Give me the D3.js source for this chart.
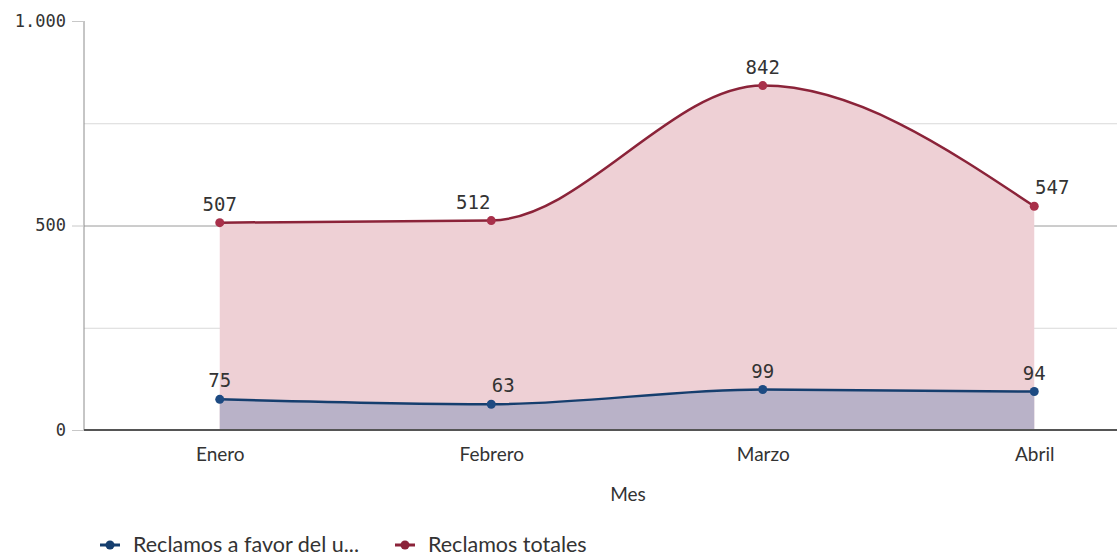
<!DOCTYPE html>
<html>
<head>
<meta charset="utf-8">
<script src="https://cdn.jsdelivr.net/npm/d3@7"></script>
<style>
  body { margin: 0; background: #fff; overflow: hidden; }
  svg { display: block; }
</style>
</head>
<body>
<svg id="chart" width="1117" height="556"></svg>
<script>
// data
const MONTHS = ["Enero", "Febrero", "Marzo", "Abril"];
const FAVOR = [75, 63, 99, 94];
const TOTAL = [507, 512, 842, 547];
const Y_TICKS = [0, 500, 1000];
const SERIES_NAMES = ["Reclamos a favor del u...", "Reclamos totales"];

// label nudges so the numbers dont sit on the lines (Qlik style)
const LABEL_DX = { total: [0, -18, 0, 18], favor: [0, 12, 0, 0] };

const width = 1117;
const height = 556;
const margin = { top: 21, right: -53, bottom: 126, left: 84 };

const svg = d3.select("#chart");

const x = d3.scalePoint()
  .domain(MONTHS)
  .range([margin.left, width - margin.right])
  .padding(0.5);

const y = d3.scaleLinear()
  .domain([0, 1000])
  .range([height - margin.bottom, margin.top]);

// gridlines
const grid = svg.append("g");
grid.selectAll("line")
  .data([250, 500, 750])
  .join("line")
  .attr("x1", margin.left)
  .attr("x2", width)
  .attr("y1", d => y(d) + 0.5)
  .attr("y2", d => y(d) + 0.5)
  .attr("stroke", d => d === 500 ? "#9a9a9a" : "#d9d9d9")
  .attr("stroke-width", 1);

const curve = d3.curveMonotoneX;

const area = vals => d3.area()
  .x((d, i) => x(MONTHS[i]))
  .y0(y(0))
  .y1(d => y(d))
  .curve(curve)(vals);

const line = vals => d3.line()
  .x((d, i) => x(MONTHS[i]))
  .y(d => y(d))
  .curve(curve)(vals);

// areas
svg.append("path").attr("d", area(TOTAL)).attr("fill", "#eed0d5");
svg.append("path").attr("d", area(FAVOR)).attr("fill", "#b9b2c8");

// lines
svg.append("path").attr("d", line(TOTAL))
  .attr("fill", "none").attr("stroke", "#8b2339").attr("stroke-width", 2.5);
svg.append("path").attr("d", line(FAVOR))
  .attr("fill", "none").attr("stroke", "#153e6e").attr("stroke-width", 2.5);

// axes
const yAxis = g => g
  .attr("transform", `translate(${margin.left},0)`)
  .call(d3.axisLeft(y).tickValues(Y_TICKS).tickSize(12).tickPadding(6)
    .tickFormat(d => d3.format(",")(d).replace(",", ".")))
  .call(g => g.select(".domain").attr("stroke", "#8c8c8c").attr("d", `M0,${y(0)}V${y(1000)}`))
  .call(g => g.selectAll(".tick line").attr("stroke", "#c8c8c8"))
  .call(g => g.selectAll(".tick text")
    .attr("font-family", "DejaVu Sans Mono")
    .attr("font-size", 17)
    .attr("fill", "#333"));

svg.append("g").call(yAxis);

// baseline
svg.append("line")
  .attr("x1", margin.left).attr("x2", width)
  .attr("y1", y(0)).attr("y2", y(0))
  .attr("stroke", "#555").attr("stroke-width", 2);

const xAxis = g => g
  .attr("transform", `translate(0,${y(0)})`)
  .call(d3.axisBottom(x).tickSize(0).tickPadding(18))
  .call(g => g.select(".domain").remove())
  .call(g => g.selectAll(".tick text")
    .attr("font-family", "Lato")
    .attr("font-size", 19)
    .attr("fill", "#333"));

svg.append("g").call(xAxis);

svg.append("text")
  .attr("x", 628).attr("y", 501)
  .attr("text-anchor", "middle")
  .attr("font-family", "Lato").attr("font-size", 19).attr("fill", "#333")
  .text("Mes");

// dots + labels
const drawPoints = (vals, color, key) => {
  svg.append("g").selectAll("circle")
    .data(vals)
    .join("circle")
    .attr("cx", (d, i) => x(MONTHS[i]))
    .attr("cy", d => y(d))
    .attr("r", 4.5)
    .attr("fill", color);

  svg.append("g").selectAll("text")
    .data(vals)
    .join("text")
    .attr("x", (d, i) => x(MONTHS[i]) + LABEL_DX[key][i])
    .attr("y", d => y(d) - 12)
    .attr("text-anchor", "middle")
    .attr("font-family", "DejaVu Sans Mono")
    .attr("font-size", 19)
    .attr("fill", "#333")
    .text(d => d);
};

drawPoints(TOTAL, "#a8304a", "total");
drawPoints(FAVOR, "#1d4a82", "favor");

// legend
const legendColors = ["#153e6e", "#8b2339"];
const legendX = [100, 395];
const legend = svg.append("g");
SERIES_NAMES.forEach((name, i) => {
  const g = legend.append("g").attr("transform", `translate(${legendX[i]},545)`);
  g.append("line").attr("x1", 0).attr("x2", 20).attr("stroke", legendColors[i]).attr("stroke-width", 3);
  g.append("circle").attr("cx", 10).attr("r", 4.5).attr("fill", legendColors[i]);
  g.append("text").attr("x", 33).attr("y", 7)
    .attr("font-family", "Lato").attr("font-size", 21.5).attr("fill", "#333")
    .text(name);
});
</script>
</body>
</html>
